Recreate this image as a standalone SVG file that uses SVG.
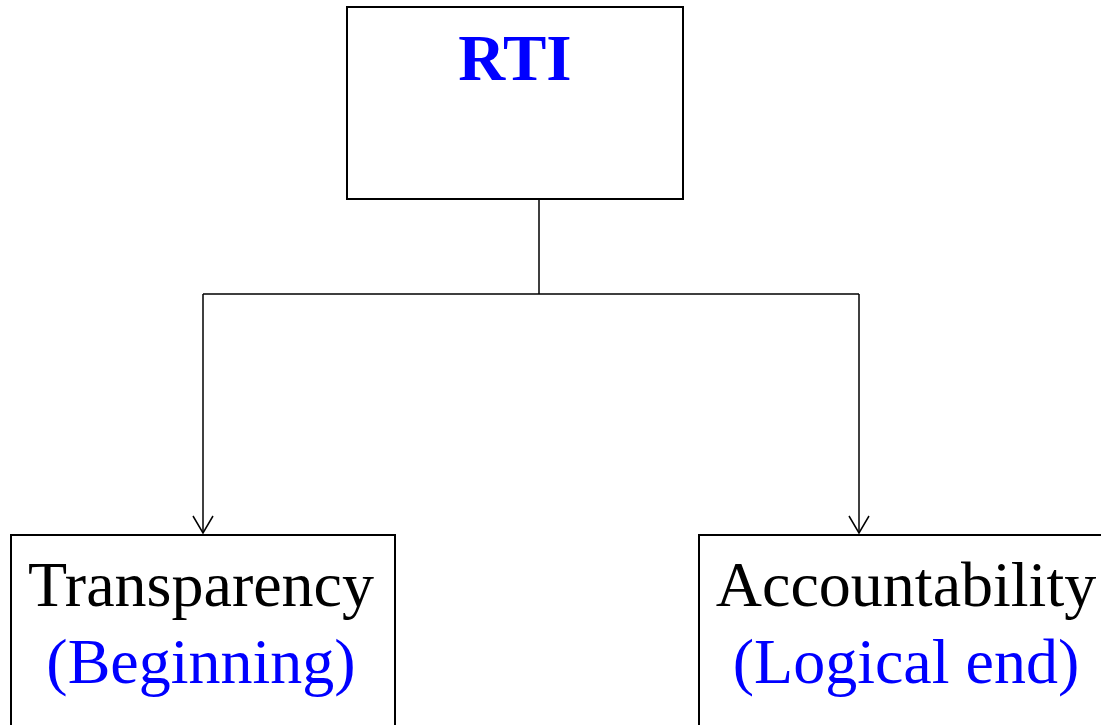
<svg xmlns="http://www.w3.org/2000/svg" width="1101" height="725" viewBox="0 0 1101 725">
<style>
.box{fill:#fff;stroke:#000;stroke-width:2}
.t{font-family:"Liberation Serif","Times New Roman",serif;text-anchor:middle}
.k{fill:#000}
.b{fill:#0000ff}
.c{fill:none;stroke:#000;stroke-width:1.5}
</style>
<defs>
<marker id="ah" markerWidth="24" markerHeight="24" refX="19" refY="12" orient="auto" markerUnits="userSpaceOnUse" viewBox="0 0 24 24">
<path d="M2 2 L19 12 L2 22" fill="none" stroke="#000" stroke-width="1.5"/>
</marker>
</defs>
<rect width="1101" height="725" fill="#fff"/>
<g id="connectors">
<path class="c" d="M539 199 L539 294 M203 294 L859 294"/>
<path class="c" d="M203 294 L203 533" marker-end="url(#ah)"/>
<path class="c" d="M859 294 L859 533" marker-end="url(#ah)"/>
</g>
<g id="rti">
<rect class="box" x="347" y="7" width="336" height="192"/>
<text class="t b" x="515" y="80" font-size="65" font-weight="bold">RTI</text>
</g>
<g id="transparency">
<rect class="box" x="11" y="535" width="384" height="200"/>
<text class="t k" x="201" y="606" font-size="64">Transparency</text>
<text class="t b" x="201" y="683" font-size="64">(Beginning)</text>
</g>
<g id="accountability">
<rect class="box" x="699" y="535" width="420" height="200"/>
<text class="t k" x="906" y="606" font-size="64">Accountability</text>
<text class="t b" x="906" y="683" font-size="64">(Logical end)</text>
</g>
</svg>
